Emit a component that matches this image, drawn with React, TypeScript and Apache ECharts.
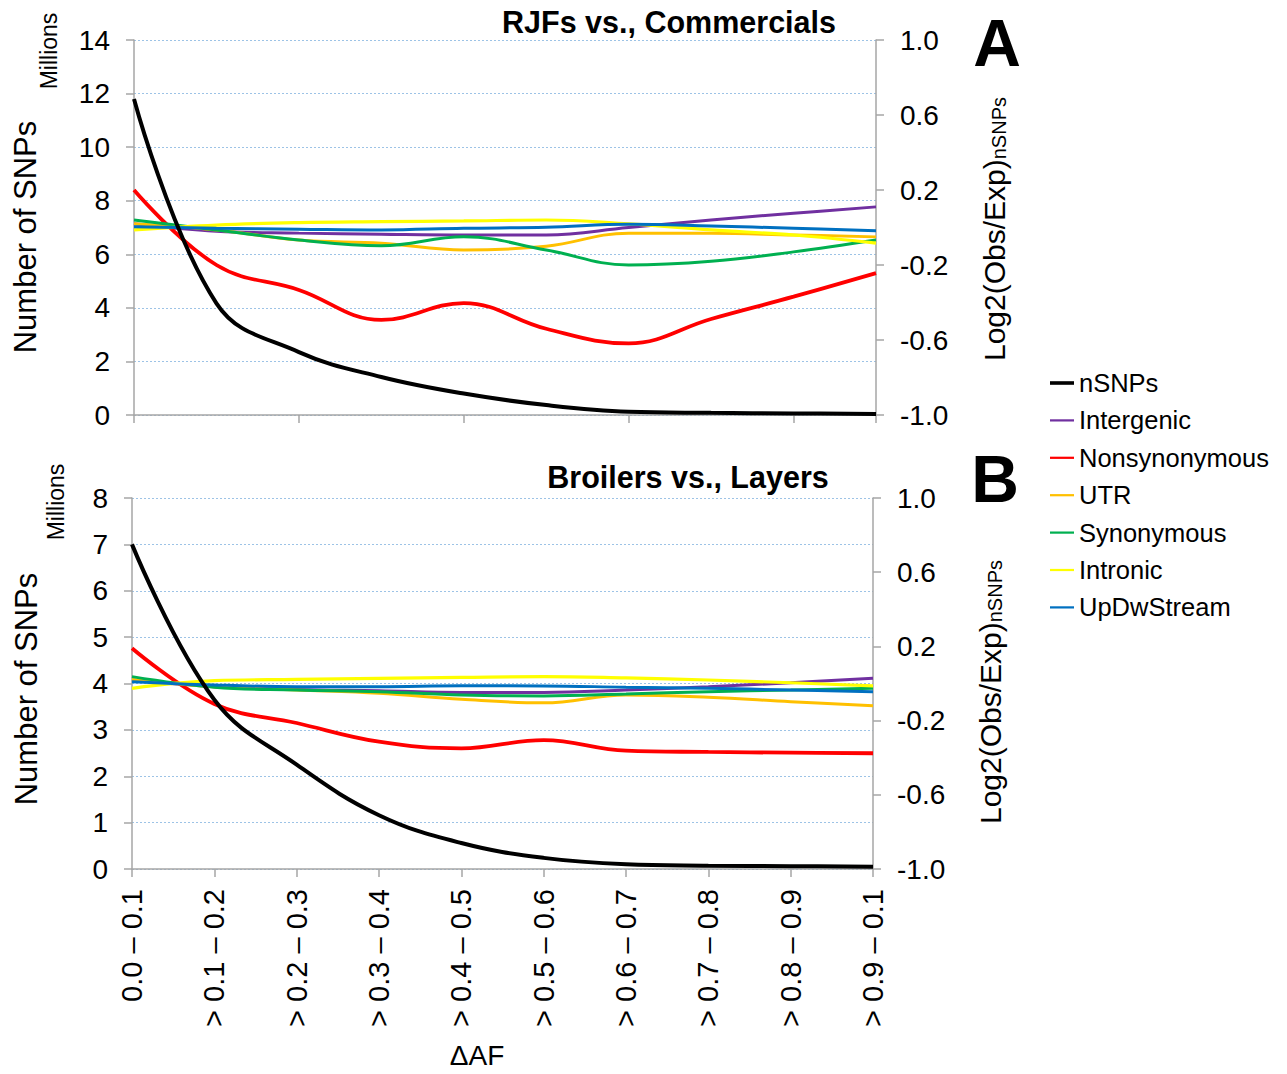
import React, { useEffect, useRef } from "react";
import * as echarts from "echarts";

const categories = [
  "0.0 – 0.1",
  "> 0.1 – 0.2",
  "> 0.2 – 0.3",
  "> 0.3 – 0.4",
  "> 0.4 – 0.5",
  "> 0.5 – 0.6",
  "> 0.6 – 0.7",
  "> 0.7 – 0.8",
  "> 0.8 – 0.9",
  "> 0.9 – 0.1",
];

const seriesNames = ["nSNPs", "Intergenic", "Nonsynonymous", "UTR", "Synonymous", "Intronic", "UpDwStream"];
const seriesColors = ["#000000", "#7030a0", "#ff0000", "#ffc000", "#00b050", "#ffff00", "#0070c0"];
const seriesWidths = [4, 3, 3.8, 3, 3, 3.2, 3];

// Panel A: RJFs vs. Commercials (nSNPs in millions, others log2 ratio)
const nSNPsA = [11.8, 4.17, 2.35, 1.42, 0.8, 0.37, 0.12, 0.08, 0.06, 0.04];
const intergenicA = [0.02, -0.02, -0.03, -0.036, -0.04, -0.04, 0.0, 0.04, 0.076, 0.11];
const nonsynA = [0.2, -0.2, -0.333, -0.493, -0.403, -0.54, -0.618, -0.488, -0.369, -0.243];
const utrA = [0.02, -0.013, -0.067, -0.084, -0.12, -0.1, -0.03, -0.03, -0.04, -0.05];
const synA = [0.04, -0.013, -0.067, -0.097, -0.049, -0.12, -0.2, -0.18, -0.13, -0.067];
const intronicA = [-0.013, 0.013, 0.026, 0.031, 0.035, 0.04, 0.019, -0.013, -0.04, -0.083];
const updwA = [0.004, -0.004, -0.009, -0.013, -0.004, 0.001, 0.017, 0.008, -0.004, -0.017];

// Panel B: Broilers vs. Layers
const nSNPsB = [7.0, 3.65, 2.25, 1.16, 0.56, 0.24, 0.1, 0.07, 0.06, 0.05];
const intergenicB = [0.019, -0.017, -0.032, -0.039, -0.048, -0.048, -0.035, -0.017, 0.004, 0.028];
const nonsynB = [0.19, -0.11, -0.213, -0.314, -0.35, -0.305, -0.362, -0.369, -0.373, -0.376];
const utrB = [0.022, -0.017, -0.035, -0.053, -0.085, -0.104, -0.062, -0.074, -0.098, -0.12];
const synB = [0.037, -0.02, -0.035, -0.044, -0.062, -0.067, -0.057, -0.044, -0.035, -0.026];
const intronicB = [-0.026, 0.015, 0.022, 0.028, 0.033, 0.037, 0.03, 0.019, 0.004, -0.013];
const updwB = [0.01, -0.008, -0.017, -0.017, -0.012, -0.013, -0.02, -0.026, -0.035, -0.044];

const panelA = [nSNPsA, intergenicA, nonsynA, utrA, synA, intronicA, updwA];
const panelB = [nSNPsB, intergenicB, nonsynB, utrB, synB, intronicB, updwB];

const leftTicksA = { min: 0, max: 14, interval: 2 };
const leftTicksB = { min: 0, max: 8, interval: 1 };
const rightTicks = { min: -1, max: 1, interval: 0.4 };

const FONT = "'Liberation Sans', Arial, sans-serif";
const AXIS_GREY = "#a6a6a6";

export default function App() {
  const ref = useRef<HTMLDivElement>(null);

  useEffect(() => {
    if (!ref.current) return;
    const chart = echarts.init(ref.current, undefined, { renderer: "svg" });

    const baseX = (gridIndex: number, showLabels: boolean, tickInterval: number) => ({
      type: "category",
      gridIndex,
      data: categories,
      boundaryGap: false,
      axisLine: { show: true, lineStyle: { color: AXIS_GREY, width: 1.5 } },
      axisTick: { show: true, interval: tickInterval, length: 8, lineStyle: { color: AXIS_GREY, width: 1.5 } },
      axisLabel: {
        show: showLabels,
        interval: 0,
        rotate: 90,
        margin: 20,
        fontSize: 29,
        color: "#000",
        fontFamily: FONT,
      },
      splitLine: { show: false },
    });

    const leftY = (gridIndex: number, t: { min: number; max: number; interval: number }) => ({
      type: "value",
      gridIndex,
      position: "left",
      min: t.min,
      max: t.max,
      interval: t.interval,
      axisLine: { show: true, lineStyle: { color: AXIS_GREY, width: 1.5 } },
      axisTick: { show: true, length: 8, lineStyle: { color: AXIS_GREY, width: 1.5 } },
      axisLabel: { fontSize: 28, color: "#000", fontFamily: FONT, margin: 24 },
      splitLine: { show: true, lineStyle: { color: "#9dc3e6", type: [2, 2], width: 1 } },
    });

    const rightY = (gridIndex: number) => ({
      type: "value",
      gridIndex,
      position: "right",
      min: rightTicks.min,
      max: rightTicks.max,
      interval: rightTicks.interval,
      axisLine: { show: true, lineStyle: { color: AXIS_GREY, width: 1.5 } },
      axisTick: { show: true, length: 8, lineStyle: { color: AXIS_GREY, width: 1.5 } },
      axisLabel: {
        fontSize: 28,
        color: "#000",
        fontFamily: FONT,
        margin: 24,
        formatter: (v: number) => v.toFixed(1),
      },
      splitLine: { show: false },
    });

    const makeSeries = (panel: number[][], gridIdx: number) =>
      panel.map((vals, i) => ({
        name: seriesNames[i],
        type: "line",
        xAxisIndex: gridIdx,
        yAxisIndex: gridIdx * 2 + (i === 0 ? 0 : 1),
        data: vals,
        smooth: 0.4,
        symbol: "none",
        showSymbol: false,
        z: i === 0 ? 3 : 2,
        lineStyle: { color: seriesColors[i], width: seriesWidths[i] },
        itemStyle: { color: seriesColors[i] },
      }));

    const richName = {
      a: { fontSize: 30, fontFamily: FONT, color: "#000", lineHeight: 34, verticalAlign: "bottom" },
      b: { fontSize: 20, fontFamily: FONT, color: "#000", lineHeight: 12, verticalAlign: "bottom" },
    };

    const option = {
      animation: false,
      backgroundColor: "#ffffff",
      textStyle: { fontFamily: FONT },
      grid: [
        { left: 134, top: 40, width: 742, height: 375 },
        { left: 132, top: 498, width: 741, height: 371 },
      ],
      xAxis: [baseX(0, false, 1), baseX(1, true, 0)],
      yAxis: [leftY(0, leftTicksA), rightY(0), leftY(1, leftTicksB), rightY(1)],
      legend: {
        orient: "vertical",
        left: 1050,
        top: 370,
        padding: 0,
        itemWidth: 24,
        itemHeight: 14,
        itemGap: 11.4,
        selectedMode: false,
        textStyle: { fontSize: 25.5, color: "#000", fontFamily: FONT, lineHeight: 26 },
        data: seriesNames.map((n, i) => ({
          name: n,
          icon: i === 0 ? "path://M0,0 H28 V4.2 H0 Z" : "path://M0,0 H28 V2.6 H0 Z",
          itemStyle: { color: seriesColors[i] },
        })),
      },
      series: [...makeSeries(panelA, 0), ...makeSeries(panelB, 1)],
      graphic: [
        {
          type: "text",
          x: 669,
          y: 22,
          style: { text: "RJFs vs., Commercials", font: `bold 30.5px ${FONT}`, fill: "#000", textAlign: "center", textVerticalAlign: "middle" },
        },
        {
          type: "text",
          x: 688,
          y: 477,
          style: { text: "Broilers vs., Layers", font: `bold 30.5px ${FONT}`, fill: "#000", textAlign: "center", textVerticalAlign: "middle" },
        },
        {
          type: "text",
          x: 997,
          y: 43,
          style: { text: "A", font: `bold 66px ${FONT}`, fill: "#000", textAlign: "center", textVerticalAlign: "middle" },
        },
        {
          type: "text",
          x: 995,
          y: 479,
          style: { text: "B", font: `bold 66px ${FONT}`, fill: "#000", textAlign: "center", textVerticalAlign: "middle" },
        },
        {
          type: "text",
          x: 49,
          y: 51,
          rotation: Math.PI / 2,
          style: { text: "Millions", font: `23px ${FONT}`, fill: "#000", textAlign: "center", textVerticalAlign: "middle" },
        },
        {
          type: "text",
          x: 56,
          y: 502,
          rotation: Math.PI / 2,
          style: { text: "Millions", font: `23px ${FONT}`, fill: "#000", textAlign: "center", textVerticalAlign: "middle" },
        },
        {
          type: "text",
          x: 25,
          y: 237,
          rotation: Math.PI / 2,
          style: { text: "Number of SNPs", font: `31px ${FONT}`, fill: "#000", textAlign: "center", textVerticalAlign: "middle" },
        },
        {
          type: "text",
          x: 26,
          y: 689,
          rotation: Math.PI / 2,
          style: { text: "Number of SNPs", font: `31px ${FONT}`, fill: "#000", textAlign: "center", textVerticalAlign: "middle" },
        },
        {
          type: "text",
          x: 992,
          y: 229,
          rotation: Math.PI / 2,
          style: {
            text: "{a|Log2(Obs/Exp)}{b|nSNPs}",
            rich: richName,
            textAlign: "center",
            textVerticalAlign: "middle",
          },
        },
        {
          type: "text",
          x: 988,
          y: 692,
          rotation: Math.PI / 2,
          style: {
            text: "{a|Log2(Obs/Exp)}{b|nSNPs}",
            rich: richName,
            textAlign: "center",
            textVerticalAlign: "middle",
          },
        },
        {
          type: "text",
          x: 477,
          y: 1055,
          style: { text: "ΔAF", font: `28px ${FONT}`, fill: "#000", textAlign: "center", textVerticalAlign: "middle" },
        },
      ],
    };

    chart.setOption(option as any);
    return () => chart.dispose();
  }, []);

  return (
    <div
      ref={ref}
      style={{ position: "absolute", left: 0, top: 0, width: 1287, height: 1074, background: "#fff" }}
    />
  );
}
